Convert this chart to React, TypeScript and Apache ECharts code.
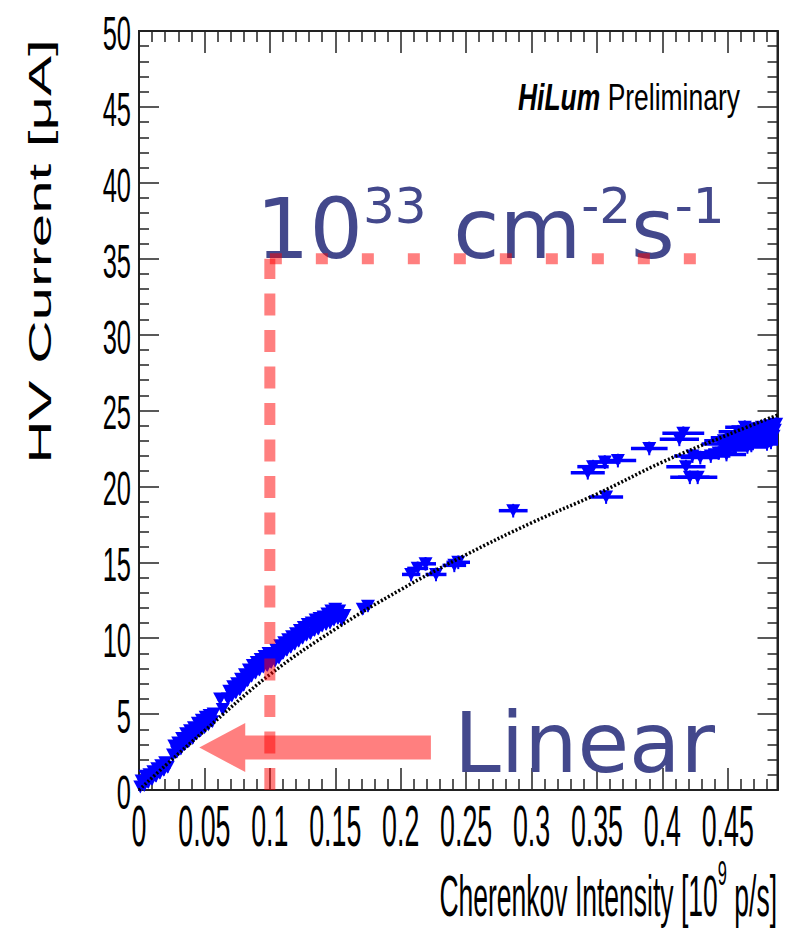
import React, { useEffect, useRef } from 'react';
import * as echarts from 'echarts';

// ---- axes ----
const X_MIN = 0;
const X_MAX = 0.488;
const X_STEP = 0.05;
const Y_MIN = 0;
const Y_MAX = 50;
const Y_STEP = 5;
const X_TICKS = [0, 0.05, 0.1, 0.15, 0.2, 0.25, 0.3, 0.35, 0.4, 0.45];
const X_TICK_LABELS = ['0', '0.05', '0.1', '0.15', '0.2', '0.25', '0.3', '0.35', '0.4', '0.45'];
const Y_TICKS = [0, 5, 10, 15, 20, 25, 30, 35, 40, 45, 50];
const Y_TICK_LABELS = ['0', '5', '10', '15', '20', '25', '30', '35', '40', '45', '50'];

const X_TITLE = 'Cherenkov Intensity [10';
const X_TITLE_SUP = '9';
const X_TITLE_END = ' p/s]';
const Y_TITLE = 'HV Current [\u03bcA]';

// ---- measurements: Cherenkov intensity [1e9 p/s] vs HV current [uA] ----
// dense low-intensity scan
const DENSE_X = [
  0.001, 0.002, 0.004, 0.005, 0.007, 0.008, 0.010, 0.011, 0.013, 0.014, 0.016, 0.017, 0.019, 0.020, 0.022,
  0.026, 0.027, 0.029, 0.030, 0.032, 0.033, 0.035, 0.036, 0.038, 0.039, 0.041, 0.042, 0.044, 0.045, 0.047,
  0.048, 0.050, 0.051, 0.053, 0.054, 0.056, 0.057,
  0.062, 0.064,
  0.068, 0.069, 0.071, 0.072, 0.074, 0.075, 0.077, 0.078, 0.080, 0.081, 0.083, 0.084, 0.086, 0.087, 0.089,
  0.090, 0.092, 0.093, 0.095, 0.096, 0.098, 0.099, 0.101, 0.102, 0.104, 0.105, 0.107, 0.108, 0.110, 0.111,
  0.113, 0.114, 0.116, 0.117, 0.119, 0.120, 0.122, 0.123, 0.125, 0.126, 0.128, 0.129, 0.131, 0.132, 0.134,
  0.135, 0.137, 0.138, 0.140, 0.141, 0.143, 0.144, 0.146, 0.147, 0.149, 0.150, 0.152, 0.153, 0.155, 0.157,
  0.171, 0.175,
];
const DENSE_Y = [
  0.2, 0.6, 0.3, 0.9, 0.5, 1.0, 0.7, 1.2, 0.9, 1.4, 1.1, 1.6, 1.3, 1.8, 1.5,
  2.3, 2.9, 2.5, 3.1, 2.7, 3.4, 3.0, 3.7, 3.2, 3.9, 3.4, 4.1, 3.7, 4.4, 3.9,
  4.6, 4.1, 4.8, 4.3, 4.9, 4.5, 5.0,
  6.0, 5.3,
  6.0, 6.5, 6.2, 6.8, 6.4, 7.0, 6.6, 7.3, 6.9, 7.6, 7.2, 7.9, 7.5, 8.2, 7.7,
  8.4, 7.9, 8.6, 8.1, 8.8, 8.2, 9.0, 8.4, 8.9, 8.5, 9.2, 8.7, 9.5, 9.0, 9.7,
  9.2, 9.9, 9.4, 10.1, 9.6, 10.3, 9.8, 10.5, 10.0, 10.7, 10.2, 10.9, 10.3, 11.0, 10.5,
  11.2, 10.6, 11.3, 10.8, 11.4, 10.9, 11.6, 11.0, 11.8, 11.2, 11.9, 11.3, 11.8, 11.2, 11.5,
  11.9, 12.1,
];
// high-intensity points
const SPARSE_X = [
  0.208, 0.213, 0.219, 0.227, 0.241, 0.244,
  0.286,
  0.343, 0.347, 0.356, 0.366, 0.357,
  0.390, 0.413, 0.416, 0.418, 0.421, 0.427, 0.423, 0.429,
  0.437, 0.443, 0.449,
  0.445, 0.447, 0.450, 0.452, 0.455, 0.457, 0.458, 0.460, 0.462, 0.463, 0.465, 0.467, 0.468, 0.470, 0.472,
  0.474, 0.476, 0.478, 0.479, 0.480, 0.482, 0.483, 0.484, 0.485, 0.486, 0.487,
];
const SPARSE_Y = [
  14.2, 14.6, 14.9, 14.2, 14.8, 15.0,
  18.4,
  20.9, 21.3, 21.6, 21.7, 19.3,
  22.5, 23.1, 23.5, 21.3, 20.6, 20.6, 22.0, 21.9,
  22.0, 22.2, 22.1,
  22.8, 23.0, 22.4, 23.2, 22.5, 22.9, 23.6, 23.3, 22.9, 23.9, 22.6, 23.4, 22.7, 23.8, 23.1,
  23.0, 23.9, 23.5, 23.2, 22.8, 24.0, 22.9, 23.6, 23.3, 23.7, 24.1,
];
const SPARSE_X_ERR = [
  0.007, 0.008, 0.008, 0.008, 0.009, 0.009,
  0.011,
  0.013, 0.012, 0.012, 0.014, 0.013,
  0.014, 0.015, 0.016, 0.015, 0.015, 0.015, 0.014, 0.015,
  0.015, 0.014, 0.015,
  0.015, 0.015, 0.015, 0.015, 0.015, 0.015, 0.015, 0.015, 0.015, 0.015, 0.015, 0.015, 0.015, 0.015, 0.015,
  0.015, 0.015, 0.015, 0.015, 0.015, 0.015, 0.015, 0.015, 0.015, 0.015, 0.015,
];
const DENSE_X_ERR = 0.002;
const DENSE_Y_ERR = 0.35;
const SPARSE_Y_ERR = 0.45;

// ---- fitted curve ----
const FIT_X = [0, 0.02, 0.05, 0.1, 0.15, 0.2, 0.25, 0.3, 0.35, 0.4, 0.45, 0.488];
const FIT_Y = [0, 1.6, 3.9, 7.6, 10.6, 13.2, 15.5, 17.6, 19.5, 21.6, 23.4, 24.7];

// ---- annotations (data units) ----
const LUMI_INTENSITY = 0.1;
const LUMI_CURRENT = 35;
const LUMI_LINE_END = 0.426;
const ARROW_Y = 2.8;
const ARROW_TIP = 0.0461;
const ARROW_HEAD_BASE = 0.0812;
const ARROW_TAIL = 0.2231;
const ARROW_HEAD_HALF = 1.62;
const ARROW_SHAFT_HALF = 0.79;

const LUMI_TEXT = ['10', '33', ' cm', '-2', 's', '-1'];
const LINEAR_TEXT = 'Linear';
const TITLE_BOLD = 'HiLum';
const TITLE_REST = 'Preliminary';

const RED = 'rgba(255,0,0,0.5)';
const BLUE = '#0000ff';
const ANNOT = '#43488c';
const FONT_ARIAL = '"Liberation Sans", Arial, sans-serif';
const FONT_DEJAVU = '"DejaVu Sans", sans-serif';

function App() {
  const ref = useRef<HTMLDivElement>(null);

  useEffect(() => {
    document.body.style.margin = '0';
    const el = ref.current;
    if (!el) return;
    const chart = echarts.init(el, null, { renderer: 'svg' });

    const axisBase = (tickLen: number, minorLen: number) => ({
      type: 'value',
      axisLine: { show: true, onZero: false, lineStyle: { color: '#222', width: 2 } },
      axisTick: { show: true, inside: true, length: tickLen, lineStyle: { color: '#222', width: 1.5 } },
      minorTick: { show: true, splitNumber: 5, length: minorLen, lineStyle: { color: '#222', width: 1.5 } },
      axisLabel: { show: false },
      splitLine: { show: false },
    });

    const points = [
      ...DENSE_X.map((x, i) => [x, DENSE_Y[i], DENSE_X_ERR, DENSE_Y_ERR]),
      ...SPARSE_X.map((x, i) => [x, SPARSE_Y[i], SPARSE_X_ERR[i], SPARSE_Y_ERR]),
    ];

    const option: any = {
      animation: false,
      backgroundColor: '#ffffff',
      grid: {
        left: 139,
        top: 31,
        width: 638.5,
        height: 759,
        show: true,
        borderColor: '#222',
        borderWidth: 2,
        backgroundColor: 'transparent',
      },
      xAxis: [
        { ...axisBase(22, 11), min: X_MIN, max: X_MAX, interval: X_STEP, position: 'bottom' },
        { ...axisBase(22, 11), min: X_MIN, max: X_MAX, interval: X_STEP, position: 'top' },
      ],
      yAxis: [
        { ...axisBase(20, 10), min: Y_MIN, max: Y_MAX, interval: Y_STEP, position: 'left' },
        { ...axisBase(20, 10), min: Y_MIN, max: Y_MAX, interval: Y_STEP, position: 'right' },
      ],
      series: [
        {
          type: 'custom',
          name: 'errors',
          xAxisIndex: 0,
          yAxisIndex: 0,
          clip: true,
          z: 2,
          data: points,
          encode: { x: 0, y: 1 },
          renderItem: (params: any, api: any) => {
            const x = api.value(0);
            const y = api.value(1);
            const ex = api.value(2);
            const ey = api.value(3);
            const l = api.coord([x - ex, y]);
            const r = api.coord([x + ex, y]);
            const b = api.coord([x, y - ey]);
            const t = api.coord([x, y + ey]);
            return {
              type: 'group',
              children: [
                { type: 'line', shape: { x1: l[0], y1: l[1], x2: r[0], y2: r[1] }, style: { stroke: BLUE, lineWidth: 3.5 } },
                { type: 'line', shape: { x1: b[0], y1: b[1], x2: t[0], y2: t[1] }, style: { stroke: BLUE, lineWidth: 2 } },
              ],
            };
          },
        },
        {
          type: 'scatter',
          name: 'data',
          xAxisIndex: 0,
          yAxisIndex: 0,
          z: 3,
          symbol: 'triangle',
          symbolRotate: 180,
          symbolSize: [14, 13],
          itemStyle: { color: BLUE, opacity: 1 },
          data: points.map((p) => [p[0], p[1]]),
        },
        {
          type: 'line',
          name: 'fit',
          xAxisIndex: 0,
          yAxisIndex: 0,
          z: 4,
          smooth: 0.4,
          showSymbol: false,
          symbol: 'none',
          lineStyle: { color: '#000', width: 3.5, type: [2, 2] },
          data: FIT_X.map((x, i) => [x, FIT_Y[i]]),
        },
        {
          type: 'line',
          name: 'lumiV',
          xAxisIndex: 0,
          yAxisIndex: 0,
          z: 10,
          symbol: 'none',
          lineStyle: { color: RED, width: 11, type: [22, 14.5], cap: 'butt' },
          data: [
            [LUMI_INTENSITY, 0],
            [LUMI_INTENSITY, LUMI_CURRENT],
          ],
        },
        {
          type: 'line',
          name: 'lumiH',
          xAxisIndex: 0,
          yAxisIndex: 0,
          z: 10,
          symbol: 'none',
          lineStyle: { color: RED, width: 11, type: [12, 34], cap: 'butt' },
          data: [
            [LUMI_INTENSITY, LUMI_CURRENT],
            [LUMI_LINE_END, LUMI_CURRENT],
          ],
        },
        {
          type: 'custom',
          name: 'arrow',
          xAxisIndex: 0,
          yAxisIndex: 0,
          z: 10,
          data: [[ARROW_TIP, ARROW_Y]],
          encode: { x: 0, y: 1 },
          renderItem: (params: any, api: any) => {
            const pts = [
              [ARROW_TIP, ARROW_Y],
              [ARROW_HEAD_BASE, ARROW_Y + ARROW_HEAD_HALF],
              [ARROW_HEAD_BASE, ARROW_Y + ARROW_SHAFT_HALF],
              [ARROW_TAIL, ARROW_Y + ARROW_SHAFT_HALF],
              [ARROW_TAIL, ARROW_Y - ARROW_SHAFT_HALF],
              [ARROW_HEAD_BASE, ARROW_Y - ARROW_SHAFT_HALF],
              [ARROW_HEAD_BASE, ARROW_Y - ARROW_HEAD_HALF],
            ].map((p) => api.coord(p));
            return { type: 'polygon', shape: { points: pts }, style: { fill: RED } };
          },
        },
      ],
    };

    chart.setOption(option);

    const graphics: any[] = [];
    Y_TICKS.forEach((v, i) => {
      const py = chart.convertToPixel({ yAxisIndex: 0 } as any, v) as number;
      graphics.push({
        type: 'text',
        id: 'yl' + i,
        x: 131,
        y: py + 2,
        scaleX: 0.52,
        z: 1,
        style: {
          text: Y_TICK_LABELS[i],
          fontFamily: FONT_ARIAL,
          fontSize: 49,
          fill: '#000',
          align: 'right',
          textAlign: 'right',
          verticalAlign: 'middle',
          textVerticalAlign: 'middle',
        },
      });
    });
    X_TICKS.forEach((v, i) => {
      const px = chart.convertToPixel({ xAxisIndex: 0 } as any, v) as number;
      graphics.push({
        type: 'text',
        id: 'xl' + i,
        x: px,
        y: 826,
        scaleX: 0.47,
        z: 1,
        style: {
          text: X_TICK_LABELS[i],
          fontFamily: FONT_ARIAL,
          fontSize: 57,
          fill: '#000',
          align: 'center',
          textAlign: 'center',
          verticalAlign: 'middle',
          textVerticalAlign: 'middle',
        },
      });
    });
    // x-axis title
    graphics.push({
      type: 'text',
      id: 'xtitle',
      x: 777,
      y: 855,
      scaleX: 0.457,
      z: 1,
      style: {
        text: '{n|' + X_TITLE + '}{s|' + X_TITLE_SUP + '}{n|' + X_TITLE_END + '}',
        align: 'right',
        textAlign: 'right',
        verticalAlign: 'top',
        textVerticalAlign: 'top',
        fill: '#000',
        rich: {
          n: { fontFamily: FONT_ARIAL, fontSize: 58, lineHeight: 70, verticalAlign: 'bottom', fill: '#000' },
          s: { fontFamily: FONT_ARIAL, fontSize: 36, lineHeight: 40, verticalAlign: 'top', fill: '#000' },
        },
      },
    });
    // y-axis title
    graphics.push({
      type: 'text',
      id: 'ytitle',
      x: 40.5,
      y: 251.5,
      rotation: Math.PI / 2,
      scaleY: 0.51,
      z: 1,
      style: {
        text: Y_TITLE,
        fontFamily: FONT_ARIAL,
        fontSize: 60,
        fill: '#000',
        align: 'center',
        textAlign: 'center',
        verticalAlign: 'middle',
        textVerticalAlign: 'middle',
      },
    });
    // HiLum Preliminary
    graphics.push({
      type: 'text',
      id: 'hilum',
      x: 518,
      y: 97,
      scaleX: 0.715,
      z: 1,
      style: {
        text: '{b|' + TITLE_BOLD + '} {r|' + TITLE_REST + '}',
        align: 'left',
        textAlign: 'left',
        verticalAlign: 'middle',
        textVerticalAlign: 'middle',
        fill: '#000',
        fontFamily: FONT_ARIAL,
        fontSize: 37,
        rich: {
          b: { fontFamily: FONT_ARIAL, fontSize: 37, fontWeight: 'bold', fontStyle: 'italic', fill: '#000' },
          r: { fontFamily: FONT_ARIAL, fontSize: 37, fill: '#000' },
        },
      },
    });
    // luminosity text
    graphics.push({
      type: 'text',
      id: 'lumi',
      x: 256,
      y: 171,
      z: 1,
      style: {
        text:
          '{n|' + LUMI_TEXT[0] + '}{s|' + LUMI_TEXT[1] + '}{n|' + LUMI_TEXT[2] + '}{s|' + LUMI_TEXT[3] +
          '}{n|' + LUMI_TEXT[4] + '}{s|' + LUMI_TEXT[5] + '}',
        align: 'left',
        textAlign: 'left',
        verticalAlign: 'top',
        textVerticalAlign: 'top',
        fill: ANNOT,
        rich: {
          n: { fontFamily: FONT_DEJAVU, fontSize: 84, lineHeight: 100, verticalAlign: 'bottom', fill: ANNOT },
          s: { fontFamily: FONT_DEJAVU, fontSize: 50, lineHeight: 70, height: 70, verticalAlign: 'top', fill: ANNOT },
        },
      },
    });
    graphics.push({
      type: 'text',
      id: 'linear',
      x: 454,
      y: 743,
      z: 1,
      style: {
        text: LINEAR_TEXT,
        fontFamily: FONT_DEJAVU,
        fontSize: 84,
        fill: ANNOT,
        align: 'left',
        textAlign: 'left',
        verticalAlign: 'middle',
        textVerticalAlign: 'middle',
      },
    });

    chart.setOption({ graphic: graphics });

    return () => {
      chart.dispose();
    };
  }, []);

  return <div ref={ref} style={{ width: 788, height: 933 }} />;
}

export default App;
